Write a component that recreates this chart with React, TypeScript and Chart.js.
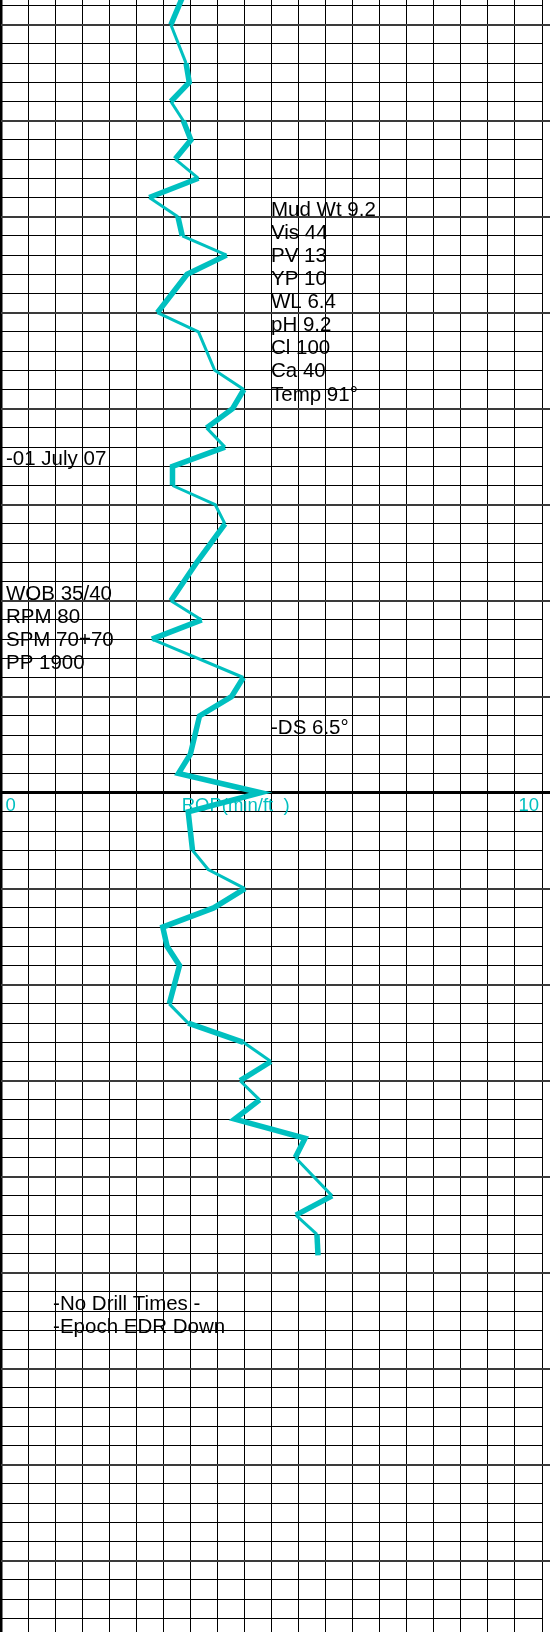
import React, { useEffect, useRef } from "react";
import { Chart, registerables } from "chart.js";

Chart.register(...registerables);

// Depth in grid rows (one row per minor line, heavy line every 5 rows)
const DEPTH = [
  3, 5, 7, 8, 9, 10, 11, 12, 13, 14,
  15, 16, 17, 18, 20, 21, 23, 24, 25, 26,
  27, 28, 29, 30, 31, 33, 35, 36, 37, 39,
  40, 41, 43, 44, 45, 46, 48, 49, 50, 51,
  52, 53, 54, 56, 57, 58, 59, 60, 61, 62,
  63, 64, 66, 67, 68, 69.1,
];
// Rate of penetration (min/ft)
const ROP = [
  3.44, 3.14, 3.42, 3.48, 3.14, 3.37, 3.51, 3.22, 3.65, 2.74,
  3.27, 3.35, 4.17, 3.44, 2.89, 3.65, 3.95, 4.49, 4.28, 3.8,
  4.14, 3.17, 3.17, 3.96, 4.14, 3.62, 3.14, 3.71, 2.79, 4.48,
  4.26, 3.67, 3.5, 3.28, 4.8, 3.46, 3.54, 3.83, 4.51, 3.93,
  2.99, 3.07, 3.3, 3.11, 3.46, 4.48, 4.99, 4.42, 4.78, 4.32,
  5.62, 5.44, 6.12, 5.45, 5.84, 5.86,
];
// Style only: which segment (from point i to i+1) is drawn heavy
const SEGMENT_HEAVY = [
  1, 0, 1, 1, 0, 1, 1, 0, 1, 0,
  1, 0, 1, 1, 0, 0, 0, 1, 1, 0,
  1, 1, 0, 0, 1, 1, 0, 1, 0, 1,
  1, 1, 1, 1, 1, 1, 0, 0, 1, 1,
  1, 1, 1, 0, 1, 0, 1, 0, 1, 1,
  1, 0, 1, 0, 1,
];

const ROP_TICKS = [0, 0.5, 1, 1.5, 2, 2.5, 3, 3.5, 4, 4.5, 5, 5.5, 6, 6.5, 7, 7.5, 8, 8.5, 9, 9.5, 10];
const DEPTH_TICKS = Array.from({ length: 85 }, (_, i) => i + 4);
const AXIS_LABELS = ["0", "ROP(min/ft  )", "10"];

const MUD_NOTES = ["Mud Wt 9.2", "Vis 44", "PV 13", "YP 10", "WL 6.4", "pH 9.2", "Cl 100", "Ca 40", "Temp 91°"];
const DATE_NOTES = ["-01 July 07"];
const DRILL_NOTES = ["WOB 35/40", "RPM 80", "SPM 70+70", "PP 1900"];
const SURVEY_NOTES = ["-DS 6.5°"];
const GAP_NOTES = ["-No Drill Times -", "-Epoch EDR Down"];

const NOTE_GROUPS = [
  { lines: MUD_NOTES, rop: 5, depth: 15 },
  { lines: DATE_NOTES, rop: 0, depth: 28 },
  { lines: DRILL_NOTES, rop: 0, depth: 35 },
  { lines: SURVEY_NOTES, rop: 5, depth: 42 },
  { lines: GAP_NOTES, rop: 1, depth: 72 },
];

const TEAL = "#00C0C0";
const FONT = '"Liberation Sans", Arial, sans-serif';

export default function App() {
  const ref = useRef<HTMLCanvasElement>(null);

  useEffect(() => {
    const canvas = ref.current;
    if (!canvas) return;

    const align = (p: number, w: number) => Math.round(p - w / 2) + w / 2;
    const noteShift = (rop: number) => (rop === 0 ? 5 : rop === 1 ? -2 : -0.5);

    const notesPlugin = {
      id: "mudlogNotes",
      beforeDatasetsDraw(chart: any) {
        const { ctx, chartArea, scales } = chart;
        const xs = scales.x;
        const ys = scales.y;
        ctx.save();
        // heavy depth lines continue to the edge of the strip
        ys.ticks.forEach((t: any) => {
          if (t.value % 5 !== 0) return;
          const w = t.value === 45 ? 3 : 2;
          const y = align(ys.getPixelForValue(t.value), w);
          ctx.beginPath();
          ctx.lineWidth = w;
          ctx.strokeStyle = t.value === 45 ? "#000" : "#3a3a3a";
          ctx.moveTo(chartArea.right, y);
          ctx.lineTo(chart.width, y);
          ctx.stroke();
        });

        // notes
        ctx.fillStyle = "#000";
        ctx.font = `20.5px ${FONT}`;
        ctx.textAlign = "left";
        ctx.textBaseline = "alphabetic";
        NOTE_GROUPS.forEach((g) => {
          const x0 = xs.getPixelForValue(g.rop) + noteShift(g.rop);
          const y0 = ys.getPixelForValue(g.depth) - 1;
          g.lines.forEach((s, i) => ctx.fillText(s, x0, y0 + i * 23.1));
        });

        // axis captions on the centre line
        const yAxis = ys.getPixelForValue(45) + 18;
        ctx.fillStyle = TEAL;
        ctx.font = `18.5px ${FONT}`;
        ctx.textAlign = "left";
        ctx.fillText(AXIS_LABELS[0], xs.getPixelForValue(0) + 4.5, yAxis);
        ctx.fillText(AXIS_LABELS[1], xs.getPixelForValue(3.34), yAxis);
        ctx.textAlign = "right";
        ctx.fillText(AXIS_LABELS[2], xs.getPixelForValue(10) - 3, yAxis);
        ctx.restore();
      },
    };

    const points = DEPTH.map((d, i) => ({ x: ROP[i], y: d }));

    const chart = new Chart(canvas, {
      type: "scatter",
      data: {
        datasets: [
          {
            data: points,
            showLine: true,
            borderColor: TEAL,
            backgroundColor: TEAL,
            pointRadius: 0,
            pointHoverRadius: 0,
            borderWidth: 5.5,
            borderJoinStyle: "miter",
            borderCapStyle: "butt",
            segment: {
              borderWidth: (c: any) => (SEGMENT_HEAVY[c.p0DataIndex] ? 5.5 : 3),
            },
          } as any,
        ],
      },
      options: {
        responsive: false,
        devicePixelRatio: 1,
        animation: false,
        events: [],
        layout: { padding: { left: 1, right: 8, top: 0, bottom: 0 } },
        plugins: {
          legend: { display: false },
          tooltip: { enabled: false },
          title: { display: false },
        },
        scales: {
          x: {
            type: "linear",
            min: 0,
            max: 10,
            position: "top",
            afterBuildTicks: (axis: any) => {
              axis.ticks = ROP_TICKS.map((v) => ({ value: v }));
            },
            ticks: { display: false },
            border: { display: false },
            grid: {
              drawTicks: false,
              color: "#000",
              lineWidth: (c: any) => (c.tick && c.tick.value === 0 ? 2.5 : 1),
            },
          },
          y: {
            type: "linear",
            reverse: true,
            min: 3.7135,
            max: 88.7135,
            afterBuildTicks: (axis: any) => {
              axis.ticks = DEPTH_TICKS.map((v) => ({ value: v }));
            },
            ticks: { display: false },
            border: { display: false },
            grid: {
              drawTicks: false,
              color: (c: any) => {
                const v = c.tick ? c.tick.value : 0;
                if (v === 45) return "#000";
                return v % 5 === 0 ? "#3a3a3a" : "#000";
              },
              lineWidth: (c: any) => {
                const v = c.tick ? c.tick.value : 0;
                if (v === 45) return 3;
                return v % 5 === 0 ? 2 : 1;
              },
            },
          },
        },
      },
      plugins: [notesPlugin],
    } as any);

    return () => chart.destroy();
  }, []);

  return (
    <div style={{ position: "absolute", left: 0, top: 0, width: 550, height: 1632, background: "#fff" }}>
      <canvas ref={ref} width={550} height={1632} style={{ display: "block", width: 550, height: 1632 }} />
    </div>
  );
}
